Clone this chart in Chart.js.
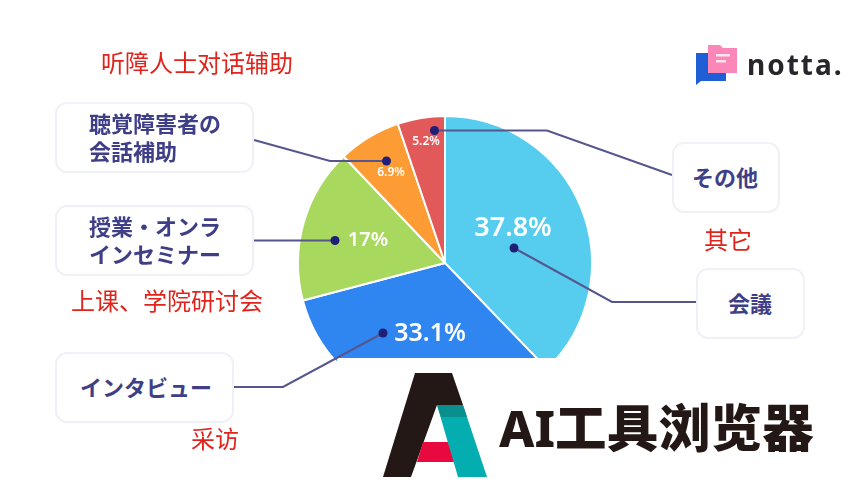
<!DOCTYPE html>
<html>
<head>
<meta charset="utf-8">
<title>notta</title>
<script src="https://cdn.jsdelivr.net/npm/chart.js@4"></script>
<style>
  html, body { margin: 0; padding: 0; background: #fff; }
  #wrap { position: relative; width: 867px; height: 495px; overflow: hidden; }
  #pie { position: absolute; left: 0; top: 0; }
  .box {
    position: absolute; box-sizing: border-box; background: #fff;
    border: 2px solid #f0f1f6; border-radius: 12px; padding-bottom: 3px;
    display: flex; flex-direction: column; justify-content: center;
    font: 700 22px/28px "Noto Sans CJK JP"; color: #3f3f88; white-space: nowrap;
  }
  .cn { position: absolute; font: 400 24px/30px "Noto Sans CJK SC"; color: #e0241c; white-space: nowrap; }
  #brand { position: absolute; left: 499px; top: 390px; font: 900 51.5px/70px "Noto Sans CJK SC"; letter-spacing: .3px; color: #231815; white-space: nowrap; }
  #brand .ai { font-family: "Noto Sans", sans-serif; font-weight: 800; font-size: 50px; letter-spacing: 0; }
  #notta { position: absolute; left: 747px; top: 44px; font: 700 28px/40px "Noto Sans", sans-serif; color: #26262b; letter-spacing: 2px; }
</style>
</head>
<body>
<div id="wrap">
  <canvas id="pie" width="867" height="495"></canvas>
  <div class="box" style="left:55px;top:102px;width:199px;height:71px;padding-left:32px">聴覚障害者の<br>会話補助</div>
  <div class="box" style="left:55px;top:205px;width:199px;height:71px;padding-left:32px">授業・オンラ<br>インセミナー</div>
  <div class="box" style="left:55px;top:352px;width:179px;height:71px;padding-left:23px">インタビュー</div>
  <div class="box" style="left:672px;top:142px;width:108px;height:71px;padding-left:18px">その他</div>
  <div class="box" style="left:696px;top:268px;width:109px;height:71px;padding-left:30px">会議</div>
  <div class="cn" style="left:101px;top:47px">听障人士对话辅助</div>
  <div class="cn" style="left:704px;top:224px">其它</div>
  <div class="cn" style="left:71px;top:285px">上课、学院研讨会</div>
  <div class="cn" style="left:191px;top:423px">采访</div>
  <div id="brand"><span class="ai">AI</span>工具浏览器</div>
  <div id="notta">notta.</div>
</div>
<script>
const categories = ['会議', 'インタビュー', '授業・オンラインセミナー', '聴覚障害者の会話補助', 'その他'];
const shares = [37.8, 33.1, 17, 6.9, 5.2];
const shareLabels = ['37.8%', '33.1%', '17%', '6.9%', '5.2%'];
const colors = ['#56cdee', '#2f86f0', '#a8d95e', '#fd9c34', '#e2595a'];

// label spot and font per slice, relative to the pie centre
const labelSpots = [[68, -35, 27], [-15, 71, 25], [-77, -23, 20], [-54, -90, 12], [-19, -121, 12]];
// leader lines, first point is the dot
const leaders = [
  [[514, 248], [612, 302], [696, 302]],
  [[383, 333], [283, 387], [233, 387]],
  [[335, 240.5], [254, 240.5]],
  [[386.5, 161], [330, 161], [254, 140]],
  [[434.5, 130.5], [547, 130.5], [672, 175]]
];

function poly(ctx, color, pts) {
  ctx.fillStyle = color;
  ctx.beginPath();
  pts.forEach((p, i) => i ? ctx.lineTo(p[0], p[1]) : ctx.moveTo(p[0], p[1]));
  ctx.closePath();
  ctx.fill();
}

const overlay = {
  id: 'overlay',
  afterDatasetsDraw(chart) {
    const ctx = chart.ctx;
    const arcs = chart.getDatasetMeta(0).data;
    ctx.save();

    // the source image is covered below this line
    ctx.fillStyle = '#fff';
    ctx.fillRect(337, 358, 270, 137);

    ctx.textAlign = 'center';
    ctx.textBaseline = 'middle';
    ctx.fillStyle = '#fff';
    shareLabels.forEach((txt, i) => {
      const s = labelSpots[i];
      ctx.font = '600 ' + s[2] + 'px "Noto Sans", sans-serif';
      ctx.fillText(txt, arcs[i].x + s[0], arcs[i].y + s[1]);
    });

    leaders.forEach(pts => {
      ctx.strokeStyle = '#56568f';
      ctx.lineWidth = 2;
      ctx.beginPath();
      pts.forEach((p, i) => i ? ctx.lineTo(p[0], p[1]) : ctx.moveTo(p[0], p[1]));
      ctx.stroke();
      ctx.fillStyle = '#1f1f78';
      ctx.beginPath();
      ctx.arc(pts[0][0], pts[0][1], 4.5, 0, Math.PI * 2);
      ctx.fill();
    });

    // AI logo
    poly(ctx, '#231815', [[415, 373], [452, 373], [463, 405], [437, 405], [411, 477], [383, 477]]);
    poly(ctx, '#e8093f', [[423, 442], [448, 442], [455, 462], [417, 462]]);
    poly(ctx, '#04adb0', [[437, 405], [463, 405], [487, 477], [458, 477]]);
    poly(ctx, '#0b8f8e', [[437, 405], [463, 405], [467, 417], [441, 417]]);

    // notta icon
    poly(ctx, '#1f5fd6', [[696, 53], [726, 53], [726, 81], [701, 81], [696, 85]]);
    poly(ctx, '#fb86b8', [[708, 45], [720, 45], [723, 48], [737, 48], [737, 73], [708, 73]]);
    ctx.fillStyle = '#ffe3ef';
    ctx.fillRect(716, 54, 14, 2.5);
    ctx.fillRect(716, 60, 10, 2.5);
    ctx.restore();
  }
};

new Chart(document.getElementById('pie'), {
  type: 'pie',
  data: {
    labels: categories,
    datasets: [{
      data: shares,
      backgroundColor: colors,
      borderColor: '#fff',
      borderWidth: 2
    }]
  },
  options: {
    responsive: false,
    animation: false,
    layout: { padding: { left: 297, right: 274, top: 115, bottom: 84 } },
    plugins: { legend: { display: false }, tooltip: { enabled: false } }
  },
  plugins: [overlay]
});
</script>
</body>
</html>
